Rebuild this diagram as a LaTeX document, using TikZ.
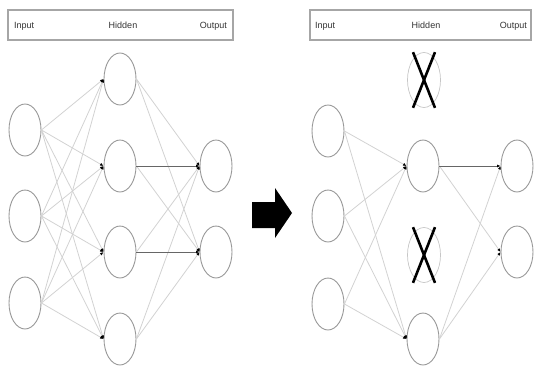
\documentclass[tikz,border=0pt]{standalone}
\usepackage{fontspec}
\setsansfont{Liberation Sans}
\usetikzlibrary{arrows.meta,shapes.geometric}
\tikzset{every picture/.style={/utils/exec={\sffamily}}}
\tikzset{
  neuron/.style={ellipse, draw=gray!80, line width=0.9pt, minimum width=32pt, minimum height=52pt, inner sep=0pt},
  dropped/.style={ellipse, draw=gray!45, line width=0.7pt, minimum width=33pt, minimum height=55pt, inner sep=0pt},
  cross/.style={line width=2.6pt, black},
  header/.style={draw=gray!70, line width=1.2pt, inner sep=0pt},
  title/.style={font=\fontsize{9}{10}\selectfont, text=black!80, inner sep=0pt},
  link/.style={gray!35, line width=0.8pt, -{Latex[length=3.5pt,width=3pt,color=black]}},
  strong/.style={gray!80!black, line width=0.9pt, -{Latex[length=3.5pt,width=3pt,color=black]}},
}

\begin{document}
\begin{tikzpicture}[x=1pt, y=-1pt]
  \useasboundingbox (0,0) rectangle (534,369);

  % before dropout
  \node[header, minimum width=225pt, minimum height=30pt] (hdl) at (120.5,25) {};
  \node[title, anchor=base west] (tinl) at (14,29) {Input};
  \node[title, anchor=base] (thidl) at (123,29) {Hidden};
  \node[title, anchor=base east] (toutl) at (227,29) {Output};

  \foreach \y [count=\i] in {130,216,303}
    \node[neuron] (il\i) at (25,\y) {};
  \foreach \y [count=\i] in {79,166,252,339}
    \node[neuron] (hl\i) at (120,\y) {};
  \foreach \y [count=\i] in {166,252}
    \node[neuron] (ol\i) at (216,\y) {};

  \foreach \i in {1,2,3}
    \foreach \j in {1,2,3,4}
      \draw[link] (il\i.east) -- (hl\j.west);
  \foreach \j in {1,4}
    \foreach \k in {1,2}
      \draw[link] (hl\j.east) -- (ol\k.west);
  \draw[link] (hl2.east) -- (ol2.west);
  \draw[link] (hl3.east) -- (ol1.west);
  \draw[strong] (hl2.east) -- (ol1.west);
  \draw[strong] (hl3.east) -- (ol2.west);

  % block arrow between the two nets
  \fill[black] (252,202) -- (275,202) -- (275,188) -- (292,213)
    -- (275,238) -- (275,228) -- (252,228) -- cycle;

  % after dropout
  \node[header, minimum width=221pt, minimum height=30pt] (hdr) at (420.5,25) {};
  \node[title, anchor=base west] (tinr) at (315,29) {Input};
  \node[title, anchor=base] (thidr) at (426,29) {Hidden};
  \node[title, anchor=base east] (toutr) at (527,29) {Output};

  \foreach \y [count=\i] in {131,216,304}
    \node[neuron] (ir\i) at (328,\y) {};
  \node[dropped] (hr1) at (424,80) {};
  \node[neuron] (hr2) at (423,166) {};
  \node[dropped] (hr3) at (424,255) {};
  \node[neuron] (hr4) at (423,339) {};
  \foreach \y [count=\i] in {166,252}
    \node[neuron] (or\i) at (517,\y) {};

  \draw[cross] ([xshift=-11pt]hr1.north) -- ([xshift=11pt]hr1.south);
  \draw[cross] ([xshift=11pt]hr1.north) -- ([xshift=-11pt]hr1.south);
  \draw[cross] ([xshift=-11pt]hr3.north) -- ([xshift=11pt]hr3.south);
  \draw[cross] ([xshift=11pt]hr3.north) -- ([xshift=-11pt]hr3.south);

  \foreach \i in {1,2,3}
    \foreach \j in {2,4}
      \draw[link] (ir\i.east) -- (hr\j.west);
  \draw[link] (hr2.east) -- (or2.west);
  \draw[link] (hr4.east) -- (or1.west);
  \draw[link] (hr4.east) -- (or2.west);
  \draw[strong] (hr2.east) -- (or1.west);
\end{tikzpicture}
\end{document}
